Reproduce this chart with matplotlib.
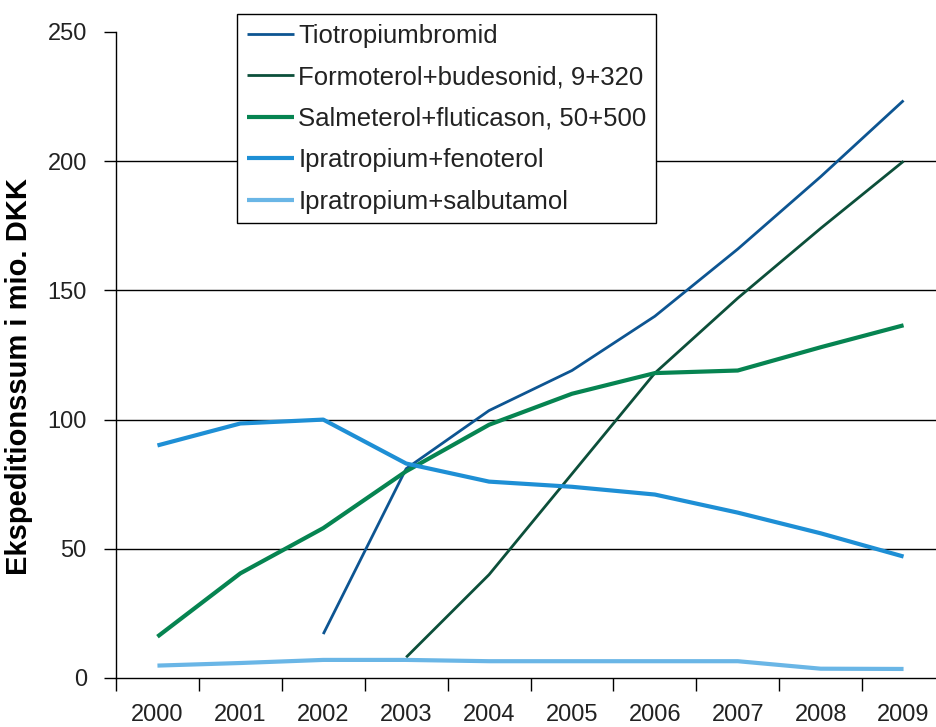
import matplotlib.pyplot as plt
import numpy as np

plt.rcParams['font.family'] = ['Liberation Sans', 'DejaVu Sans']

years = ['2000', '2001', '2002', '2003', '2004', '2005', '2006', '2007', '2008', '2009']

# Expenditure in million DKK, None where the drug was not on the market
tiotropium = [None, None, 17, 81, 103.5, 119, 140, 166, 194, 223.5]
formoterol = [None, None, None, 8, 40, 79, 118, 147, 174, 200]
salmeterol = [16, 40.5, 58, 80, 98, 110, 118, 119, 128, 136.5]
fenoterol = [90, 98.5, 100, 83, 76, 74, 71, 64, 56, 47]
salbutamol = [4.8, 5.8, 7, 7, 6.5, 6.5, 6.5, 6.5, 3.6, 3.5]

series = [
    ('Tiotropiumbromid', tiotropium, '#0d5592', 2.0),
    ('Formoterol+budesonid, 9+320', formoterol, '#0c4f3a', 2.0),
    ('Salmeterol+fluticason, 50+500', salmeterol, '#068451', 3.0),
    ('Ipratropium+fenoterol', fenoterol, '#1e8fd5', 3.0),
    ('Ipratropium+salbutamol', salbutamol, '#6ab6e6', 3.0),
]

W, H = 936, 727
fig = plt.figure(figsize=(W / 100, H / 100), dpi=100)
# the category axis runs a little past the right edge of the canvas
ax = fig.add_axes([116 / W, (H - 678) / H, 829 / W, 646 / H])

x = np.arange(len(years))
for label, values, color, lw in series:
    y = np.array([np.nan if v is None else v for v in values], dtype=float)
    ax.plot(x, y, color=color, lw=lw, label=label, solid_capstyle='butt')

ax.set_xlim(-0.5, len(years) - 0.5)
ax.set_ylim(0, 250)
ax.set_yticks(np.arange(0, 251, 50))
ax.set_xticks(x)
ax.set_xticklabels(years)
ax.set_xticks(np.arange(-0.5, len(years)), minor=True)

ax.tick_params(axis='x', which='major', length=0, pad=19,
               labelsize=17, labelcolor='#222222')
ax.tick_params(axis='x', which='minor', length=9, width=1, direction='out')
ax.tick_params(axis='y', length=9, width=1, direction='out', pad=12,
               labelsize=17, labelcolor='#222222')

ax.yaxis.grid(True, color='black', lw=1)
for line, val in zip(ax.get_ygridlines(), ax.get_yticks()):
    if val in (0, 250):
        line.set_visible(False)
ax.set_axisbelow(True)

for side in ('top', 'right'):
    ax.spines[side].set_visible(False)
for side in ('left', 'bottom'):
    ax.spines[side].set_linewidth(1)
    ax.spines[side].set_color('black')

ax.set_ylabel('Ekspeditionssum i mio. DKK', fontsize=21, fontweight='bold')
ax.yaxis.set_label_coords(-0.100, 0.467)

leg = fig.legend(loc='upper left', bbox_to_anchor=(237 / W, 1 - 14 / H),
                 bbox_transform=fig.transFigure, borderaxespad=0,
                 fontsize=18.5, frameon=True, fancybox=False,
                 edgecolor='black', framealpha=1, handlelength=1.85,
                 handletextpad=0.15, borderpad=0.38, labelspacing=0.68)
leg.get_frame().set_linewidth(1)
for t in leg.get_texts():
    t.set_color('#222222')

fig.savefig('out.png', dpi=100)
